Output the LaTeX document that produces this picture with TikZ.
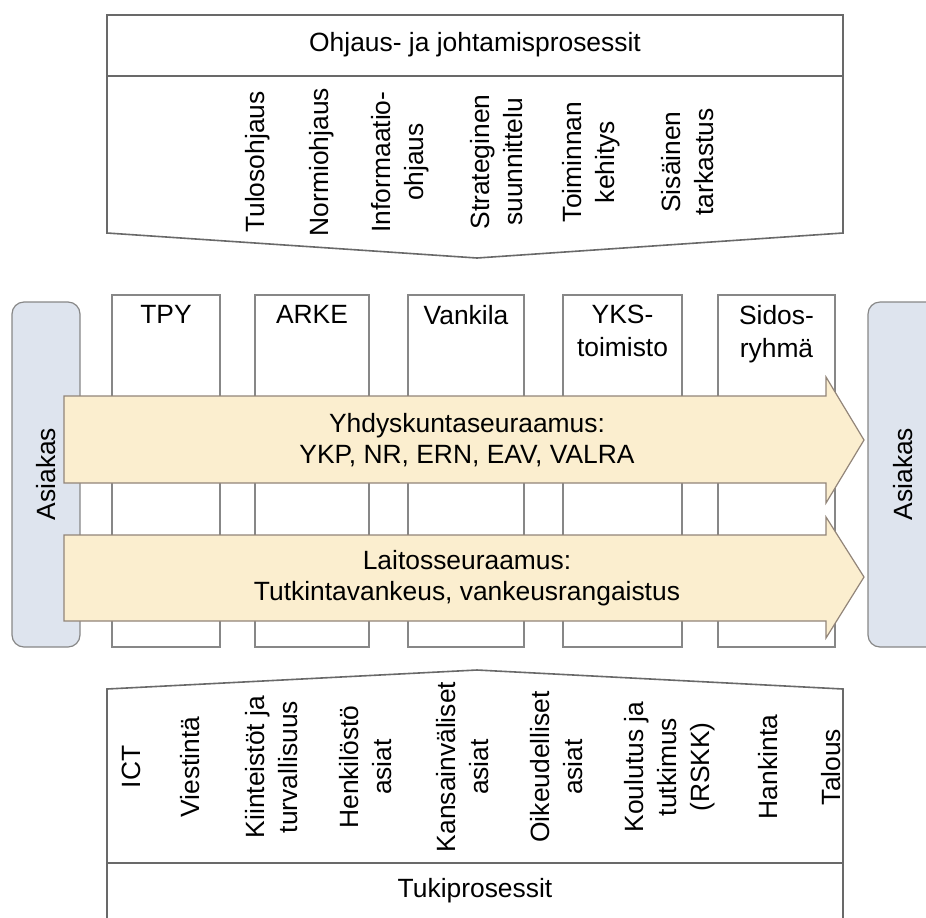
\documentclass[tikz,border=0pt]{standalone}
\usepackage{fontspec}
\setmainfont{Liberation Sans}
\definecolor{asiakasfill}{RGB}{222,228,238}
\definecolor{nuolifill}{RGB}{251,238,207}
\definecolor{viiva}{RGB}{105,105,105}
\definecolor{ohutviiva}{RGB}{135,135,135}

\begin{document}
\begin{tikzpicture}[x=0.5pt,y=-0.5pt,font=\fontsize{13.2}{16.5}\selectfont,
    lohko/.style={draw=viiva,line width=0.8pt,fill=white},
    sarake/.style={draw=ohutviiva,line width=0.6pt,fill=white},
    asiakas/.style={draw=ohutviiva,line width=0.6pt,fill=asiakasfill,rounded corners=6pt},
    nuoli/.style={draw=ohutviiva!80!brown,line width=0.6pt,fill=nuolifill},
    pysty/.style={rotate=90,align=center,inner sep=0pt}]
        \useasboundingbox (0,0) rectangle (926,917);
        \clip (0,0) rectangle (926,917);

        \draw[lohko] (107,15) -- (843,15) -- (843,233) -- (477,258) -- (107,233) -- cycle;
        \draw[lohko] (107,76) -- (843,76);
        \node (ohjaus) at (475,45) {Ohjaus- ja johtamisprosessit};
        \foreach \x/\t/\n in {258/Tulosohjaus/tulos,322/Normiohjaus/normi,400/{Informaatio-\\ohjaus}/info,
            497/{Strateginen\\suunnittelu}/strat,591/{Toiminnan\\kehitys}/toim,688/{Sisäinen\\tarkastus}/sis}
            {\node[pysty] (\n) at (\x,162) {\t};}

        \foreach \a/\b/\t/\n in {112/220/TPY/tpy,255/369/ARKE/arke,408/524/Vankila/vankila,
            563/682/{YKS-\\toimisto}/yks,718/835/{Sidos-\\ryhmä}/sidos}
            {\draw[sarake] (\a,295) rectangle (\b,647);
             \node[anchor=north,align=center,inner sep=0pt] (\n) at ({(\a+\b)/2},305) {\t};}

        \draw[asiakas] (12,302) rectangle (80,647);
        \draw[asiakas] (868,302) rectangle (940,647);
        \node[rotate=90] (asiakasA) at (46,474) {Asiakas};
        \node[rotate=90] (asiakasB) at (903,474) {Asiakas};

        \draw[nuoli] (64,396) -- (826,396) -- (826,377) -- (864,440) -- (826,503) -- (826,483) -- (64,483) -- cycle;
        \draw[nuoli] (64,535) -- (826,535) -- (826,517) -- (864,577) -- (826,638) -- (826,621) -- (64,621) -- cycle;
        \node[align=center,font=\fontsize{13.2}{15.5}\selectfont] (yhdyskunta) at (467,440) {Yhdyskuntaseuraamus:\\YKP, NR, ERN, EAV, VALRA};
        \node[align=center,font=\fontsize{13.2}{15.5}\selectfont] (laitos) at (467,578) {Laitosseuraamus:\\Tutkintavankeus, vankeusrangaistus};

        \draw[lohko] (107,935) -- (107,689) -- (477,670) -- (843,689) -- (843,935);
        \draw[lohko] (107,863) -- (843,863);
        \node (tuki) at (475,891) {Tukiprosessit};
        \foreach \x/\t/\n in {131/ICT/ict,190/Viestintä/viest,272/{Kiinteistöt ja\\turvallisuus}/kiint,
            366/{Henkilöstö\\asiat}/henk,463/{Kansainväliset\\asiat}/kans,557/{Oikeudelliset\\asiat}/oik,
            670/{Koulutus ja\\tutkimus\\(RSKK)}/koul,768/Hankinta/hank,831/Talous/tal}
            {\node[pysty] (\n) at (\x,767) {\t};}
\end{tikzpicture}
\end{document}
